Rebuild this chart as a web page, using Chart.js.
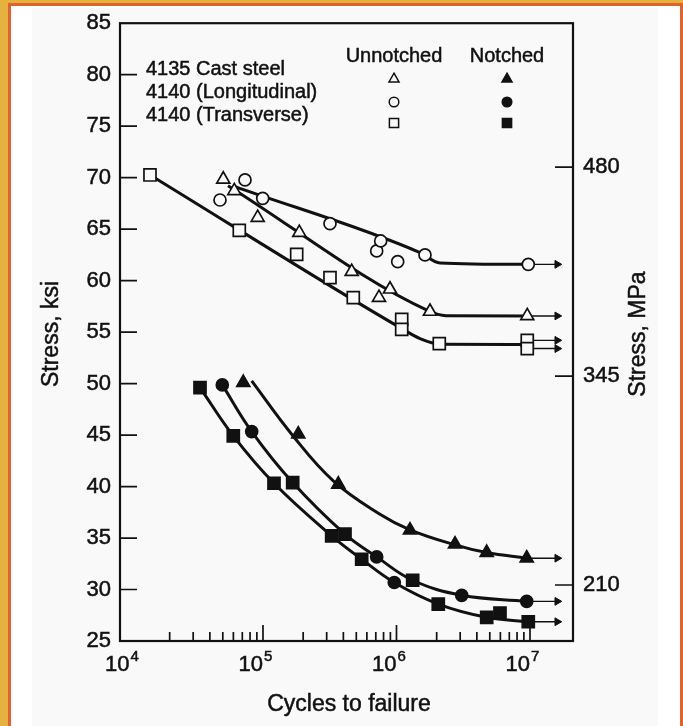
<!DOCTYPE html>
<html>
<head>
<meta charset="utf-8">
<title>S-N curves, 4135 / 4140 steel</title>
<script src="https://cdn.jsdelivr.net/npm/chart.js@4.4.1/dist/chart.umd.min.js"></script>
<style>
  html, body { margin: 0; padding: 0; }
  body { width: 683px; height: 726px; background: #e4b23f; position: relative; overflow: hidden; }
  #frame { position: absolute; left: 8px; top: 3px; width: 669px; height: 760px; border: 3px solid #e0622c; background: #ffffff; }
  #panel { position: absolute; left: 32px; top: 8px; width: 626px; height: 718px; background: #f9f9f9; }
  #chart { position: absolute; left: 0; top: 0; }
</style>
</head>
<body>
<div id="frame"></div>
<div id="panel"></div>
<canvas id="chart" width="683" height="726"></canvas>
<script>
// Legend entries
const steels = ['4135 Cast steel', '4140 (Longitudinal)', '4140 (Transverse)'];
const conditions = ['Unnotched', 'Notched'];
const steelMarkers = ['triangle', 'circle', 'rect'];

// Unnotched test points (cycles, ksi)
const castUnN = [50400, 60950, 91270, 187000, 461800, 739500, 894000, 1782000, 9540000];
const castUnS = [69.84, 68.71, 66.12, 64.66, 60.87, 58.35, 59.16, 57.0, 56.57];
const longUnN = [47640, 73330, 99500, 317600, 710800, 761400, 1021000, 1635000, 9710000];
const longUnS = [67.83, 69.78, 67.99, 65.53, 62.88, 63.85, 61.84, 62.5, 61.58];
const transUnN = [14240, 66450, 178800, 317600, 474700, 1094000, 1094000, 2092000, 9540000, 9540000];
const transUnS = [70.26, 64.88, 62.55, 60.29, 58.35, 56.24, 55.27, 53.88, 54.2, 53.4];

// Notched test points
const castNoN = [71200, 183800, 366400, 1262000, 2743000, 4740000, 9450000];
const castNoS = [50.1, 45.08, 40.22, 35.76, 34.4, 33.59, 33.04];
const longNoN = [49560, 82300, 710800, 962700, 3079000, 9450000];
const longNoS = [49.87, 45.34, 33.17, 30.68, 29.44, 28.85];
const transNoN = [33750, 59910, 120900, 166900, 327000, 411400, 548600, 1322000, 2056000, 4740000, 5960000, 9710000];
const transNoS = [49.61, 44.92, 40.32, 40.39, 35.21, 35.37, 32.94, 30.9, 28.59, 27.3, 27.72, 26.87];

// Fitted curves (knots)
const castUnFitN = [54670, 1722000, 2349000, 9540000];
const castUnFitS = [69.22, 57.09, 56.6, 56.57];
const longUnFitN = [61700, 1500000, 2118000, 9710000];
const longUnFitS = [69.13, 62.72, 61.72, 61.58];
const transUnFitN = [14240, 1062000, 1500000, 2118000, 9540000];
const transUnFitS = [70.26, 55.44, 54.37, 53.83, 53.8];
const castNoFitN = [82300, 164100, 336200, 752000, 1262000, 2743000, 4740000, 9450000];
const castNoFitS = [50.26, 45.08, 40.55, 37.31, 35.8, 34.34, 33.59, 33.04];
const longNoFitN = [49560, 82300, 166900, 411400, 710800, 1322000, 3079000, 9450000];
const longNoFitS = [49.87, 45.34, 40.39, 35.37, 33.17, 30.9, 29.44, 28.85];
const transNoFitN = [33750, 59910, 120900, 327000, 548600, 962700, 2056000, 4740000, 9710000];
const transNoFitS = [49.61, 44.92, 40.32, 35.21, 32.94, 30.68, 28.59, 27.3, 26.87];

// Run-outs (arrows to the right)
const runoutN = [9710000, 9540000, 9540000, 9540000, 9450000, 9450000, 9710000];
const runoutS = [61.58, 56.57, 54.2, 53.4, 33.04, 28.85, 26.87];
const arrowEndN = 16000000;

// Axes
const ksiTicks = [25, 30, 35, 40, 45, 50, 55, 60, 65, 70, 75, 80, 85];
const cycleDecades = [1e4, 1e5, 1e6, 1e7];
const mpaTicks = [210, 345, 480];

const INK = '#111';
const PAPER = '#f9f9f9';
const FONT = '"Liberation Sans", Arial, Helvetica, sans-serif';

const zip = (xs, ys) => xs.map((x, i) => ({ x: x, y: ys[i] }));

function markerSet(xs, ys, style, filled) {
    const r = style === 'rect' ? 8.5 : style === 'triangle' ? 7.5 : 6;
    return {
        data: zip(xs, ys),
        pointStyle: style,
        pointRadius: r,
        pointBorderWidth: 1.7,
        pointBorderColor: INK,
        pointBackgroundColor: filled ? INK : PAPER,
        showLine: false,
        order: 0
    };
}

function fitLine(xs, ys, smooth) {
    const ds = {
        data: zip(xs, ys),
        showLine: true,
        borderColor: INK,
        borderWidth: 3,
        pointRadius: 0,
        order: 1
    };
    if (smooth) ds.tension = 0.4;
    else ds.cubicInterpolationMode = 'monotone';
    return ds;
}

function arrow(i) {
    return {
        data: [{ x: runoutN[i], y: runoutS[i] }, { x: arrowEndN, y: runoutS[i] }],
        showLine: true,
        borderColor: INK,
        borderWidth: 1.4,
        pointStyle: 'triangle',
        pointRotation: 90,
        pointRadius: [0, 4.5],
        pointBorderWidth: 1,
        pointBorderColor: INK,
        pointBackgroundColor: INK,
        order: 2
    };
}

// Text with a faint outline so it reads as heavy as the scanned original
function heavyText(ctx, t, x, y) {
    ctx.strokeText(t, x, y);
    ctx.fillText(t, x, y);
}

// Frame, inward ticks, decade labels and axis titles
const framePlugin = {
    id: 'frame',
    afterDraw(chart) {
        const ctx = chart.ctx;
        const a = chart.chartArea;
        const x = chart.scales.x, y = chart.scales.y, y2 = chart.scales.y2;
        ctx.save();
        ctx.strokeStyle = INK;
        ctx.lineWidth = 2.2;
        ctx.strokeRect(a.left, a.top, a.right - a.left, a.bottom - a.top);

        ctx.lineWidth = 1.7;
        ctx.beginPath();
        ksiTicks.slice(1, -1).forEach(v => {
            const py = y.getPixelForValue(v);
            ctx.moveTo(a.left, py);
            ctx.lineTo(a.left + 17, py);
        });
        mpaTicks.forEach(v => {
            const py = y2.getPixelForValue(v);
            ctx.moveTo(a.right, py);
            ctx.lineTo(a.right - 18, py);
        });
        cycleDecades.slice(0, -1).forEach(d => {
            for (let k = 2; k <= 10; k++) {
                const px = x.getPixelForValue(k * d);
                ctx.moveTo(px, a.bottom);
                ctx.lineTo(px, a.bottom - (k === 10 ? 16 : 9));
            }
        });
        ctx.stroke();

        ctx.fillStyle = INK;
        ctx.lineWidth = 0.5;
        ctx.textBaseline = 'middle';

        // 10^n labels: base and raised exponent
        cycleDecades.forEach(d => {
            const px = x.getPixelForValue(d);
            const exp = String(Math.round(Math.log10(d)));
            ctx.font = '22px ' + FONT;
            ctx.textAlign = 'right';
            heavyText(ctx, '10', px, 665);
            ctx.font = '15px ' + FONT;
            ctx.textAlign = 'left';
            heavyText(ctx, exp, px + 1, 657);
        });

        ctx.font = '23px ' + FONT;
        ctx.textAlign = 'center';
        heavyText(ctx, 'Cycles to failure', 349, 705);
        [['Stress, ksi', 52], ['Stress, MPa', 639]].forEach(([t, cx]) => {
            ctx.save();
            ctx.translate(cx, 334);
            ctx.rotate(-Math.PI / 2);
            heavyText(ctx, t, 0, 0);
            ctx.restore();
        });
        ctx.restore();
    }
};

// Two-column marker key in the upper part of the plot
const keyPlugin = {
    id: 'key',
    afterDraw(chart) {
        const ctx = chart.ctx;
        const cols = [394, 507];
        ctx.save();
        ctx.fillStyle = INK;
        ctx.strokeStyle = INK;
        ctx.lineWidth = 0.5;
        ctx.font = '20px ' + FONT;
        ctx.textBaseline = 'middle';
        ctx.textAlign = 'left';
        steels.forEach((s, i) => heavyText(ctx, s, 146, 69 + i * 23));
        ctx.textAlign = 'center';
        conditions.forEach((c, j) => heavyText(ctx, c, cols[j], 56));
        steelMarkers.forEach((style, i) => {
            const my = [79, 102, 123][i];
            cols.forEach((cx, j) => {
                ctx.fillStyle = j === 1 ? INK : PAPER;
                ctx.strokeStyle = INK;
                ctx.lineWidth = 1.5;
                const r = style === 'rect' ? 6.5 : style === 'triangle' ? 5.8 : 4.8;
                Chart.helpers.drawPoint(ctx, { pointStyle: style, radius: r, borderWidth: 1.5, rotation: 0 }, cx, my);
            });
        });
        ctx.restore();
    }
};

const datasets = [
    markerSet(castUnN, castUnS, 'triangle', false),
    markerSet(longUnN, longUnS, 'circle', false),
    markerSet(transUnN, transUnS, 'rect', false),
    markerSet(castNoN, castNoS, 'triangle', true),
    markerSet(longNoN, longNoS, 'circle', true),
    markerSet(transNoN, transNoS, 'rect', true),
    fitLine(castUnFitN, castUnFitS, false),
    fitLine(longUnFitN, longUnFitS, false),
    fitLine(transUnFitN, transUnFitS, false),
    fitLine(castNoFitN, castNoFitS, true),
    fitLine(longNoFitN, longNoFitS, true),
    fitLine(transNoFitN, transNoFitS, true)
];
runoutN.forEach((n, i) => datasets.push(arrow(i)));

const hiddenGrid = { display: false, drawTicks: false, tickLength: 0 };
const tickFont = { family: FONT, size: 22 };

new Chart(document.getElementById('chart'), {
    type: 'scatter',
    data: { datasets: datasets },
    options: {
        responsive: false,
        animation: false,
        layout: { padding: { top: 23, left: 0, right: 0, bottom: 0 } },
        plugins: { legend: { display: false }, tooltip: { enabled: false } },
        scales: {
            x: {
                type: 'logarithmic',
                min: 8490,
                max: 21000000,
                bounds: 'data',
                grid: hiddenGrid,
                border: { display: false },
                afterBuildTicks: s => { s.ticks = cycleDecades.map(v => ({ value: v, major: true })); },
                afterFit: s => { s.height = 85; },
                ticks: { display: false }
            },
            y: {
                type: 'linear',
                position: 'left',
                min: 25,
                max: 85,
                bounds: 'data',
                grid: hiddenGrid,
                border: { display: false },
                afterBuildTicks: s => { s.ticks = ksiTicks.map(v => ({ value: v })); },
                afterFit: s => { s.width = 120; },
                ticks: { padding: 9, color: INK, font: tickFont, textStrokeColor: INK, textStrokeWidth: 0.5 }
            },
            y2: {
                type: 'linear',
                position: 'right',
                min: 173.8,
                max: 573,
                bounds: 'data',
                grid: hiddenGrid,
                border: { display: false },
                afterBuildTicks: s => { s.ticks = mpaTicks.map(v => ({ value: v })); },
                afterFit: s => { s.width = 110; },
                ticks: { padding: 10, color: INK, font: tickFont, textStrokeColor: INK, textStrokeWidth: 0.5 }
            }
        }
    },
    plugins: [framePlugin, keyPlugin]
});
</script>
</body>
</html>
